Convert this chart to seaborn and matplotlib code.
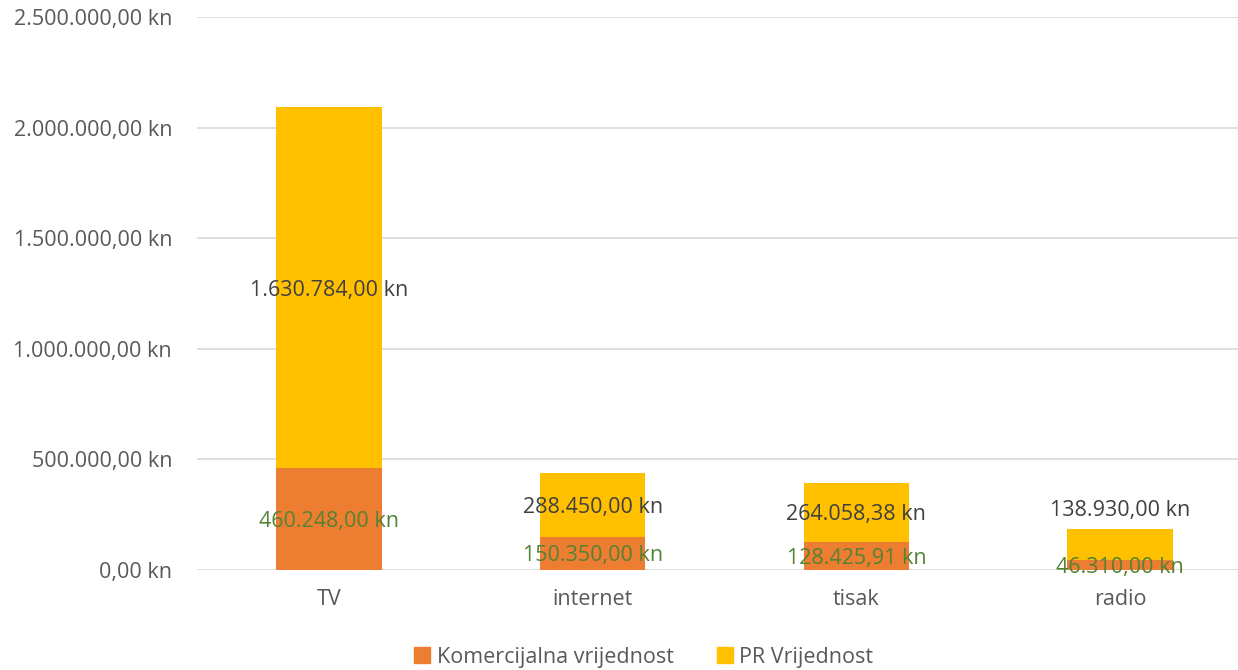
import numpy as np
import pandas as pd
import matplotlib
matplotlib.use("Agg")
import matplotlib.pyplot as plt
import seaborn as sns
from matplotlib.ticker import FuncFormatter
from matplotlib.patches import Patch

# data
mediji = ["TV", "internet", "tisak", "radio"]
komercijalna = [460248.00, 150350.00, 128425.91, 46310.00]
pr_vrijednost = [1630784.00, 288450.00, 264058.38, 138930.00]

df = pd.DataFrame({"medij": mediji, "kom": komercijalna, "pr": pr_vrijednost})
df["ukupno"] = df["kom"] + df["pr"]

sns.set_style("white")
plt.rcParams["font.family"] = ["Open Sans", "DejaVu Sans"]

def kn(v, pos=None):
    s = f"{v:,.2f}"
    s = s.replace(",", "X").replace(".", ",").replace("X", ".")
    return s + " kn"

fig = plt.figure(figsize=(12.38, 6.7), dpi=100)
ax = fig.add_axes([197 / 1238, 1 - 570 / 670, (1252 - 197) / 1238, (570 - 17) / 670])

orange = "#ED7D31"
yellow = "#FFC000"

# stacked: total in yellow, commercial on top of it in orange
sns.barplot(data=df, x="medij", y="ukupno", color=yellow, width=0.4, ax=ax,
            zorder=3, saturation=1, linewidth=0)
sns.barplot(data=df, x="medij", y="kom", color=orange, width=0.4, ax=ax,
            zorder=3, saturation=1, linewidth=0)

ax.set_ylim(0, 2500000)
ax.set_xlim(-0.5, 3.5)
ax.yaxis.set_major_formatter(FuncFormatter(kn))
ax.set_yticks(np.arange(0, 2500001, 500000))
ax.grid(axis="y", color="#D9D9D9", linewidth=1.2, zorder=0)
for sp in ax.spines.values():
    sp.set_visible(False)
ax.set_xlabel("")
ax.set_ylabel("")
ax.tick_params(axis="both", length=0, labelsize=15.5, colors="#595959")
ax.tick_params(axis="y", pad=18)
ax.tick_params(axis="x", pad=14)

# value labels
for i, row in df.iterrows():
    ax.text(i, row["kom"] / 2, kn(row["kom"]), ha="center", va="center_baseline",
            fontsize=15.5, color="#548235", zorder=5)
    if row["medij"] == "radio":
        ypr = row["ukupno"] + 95000
    else:
        ypr = row["kom"] + row["pr"] / 2
    ax.text(i, ypr, kn(row["pr"]), ha="center", va="center_baseline",
            fontsize=15.5, color="#404040", zorder=5)

handles = [Patch(color=orange, label="Komercijalna vrijednost"),
           Patch(color=yellow, label="PR Vrijednost")]
fig.legend(handles=handles, loc="center", bbox_to_anchor=(0.52, 1 - 657 / 670),
           ncol=2, frameon=False, fontsize=15.5, handlelength=0.75, handleheight=0.75,
           columnspacing=2.0, handletextpad=0.3, labelcolor="#595959")

fig.savefig("out.png", dpi=100)
